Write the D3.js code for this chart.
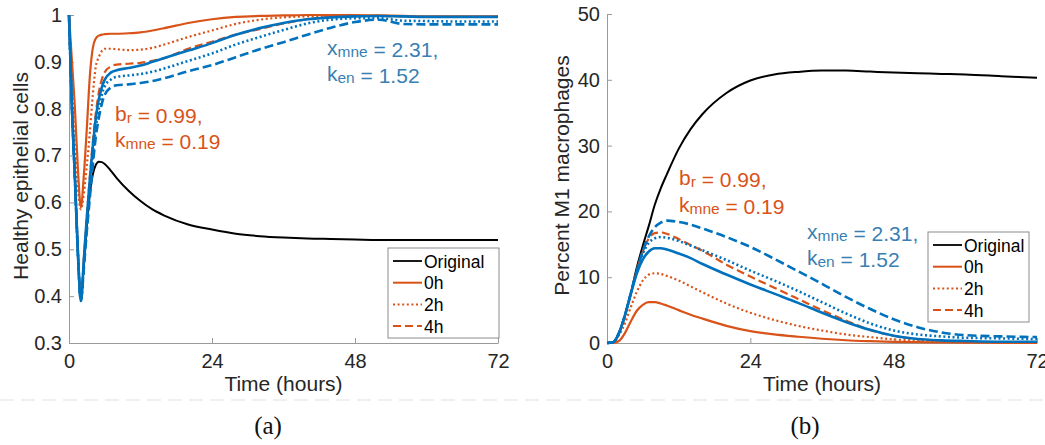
<!DOCTYPE html>
<html>
<head>
<meta charset="utf-8">
<script src="https://cdn.jsdelivr.net/npm/d3@7"></script>
<style>
  body { margin: 0; background: #fff; }
  svg text { font-family: "Liberation Sans", Arial, sans-serif; }
</style>
</head>
<body>
<svg id="chart" width="1045" height="445"></svg>
<script>
// ---- data ----
const hoursA = [0, 0.5, 1, 1.5, 2, 2.5, 3, 3.5, 4, 4.5, 5, 5.5, 6, 7, 8, 10, 12, 14, 16, 20, 24, 28, 32, 36, 40, 44, 48, 52, 56, 60, 66, 72];
const epiOriginal = [1, 0.8, 0.65, 0.49, 0.39, 0.47, 0.55, 0.62, 0.66, 0.68, 0.687, 0.686, 0.682, 0.668, 0.652, 0.625, 0.603, 0.585, 0.572, 0.553, 0.542, 0.533, 0.528, 0.525, 0.523, 0.522, 0.521, 0.52, 0.52, 0.52, 0.52, 0.52];
const epiBr0h = [1, 0.9, 0.8, 0.67, 0.59, 0.66, 0.76, 0.87, 0.93, 0.95, 0.956, 0.958, 0.959, 0.96, 0.96, 0.961, 0.963, 0.967, 0.972, 0.983, 0.991, 0.996, 0.998, 0.999, 1, 1, 1, 0.999, 0.998, 0.997, 0.997, 0.997];
const epiBr2h = [1, 0.85, 0.72, 0.63, 0.585, 0.62, 0.68, 0.75, 0.83, 0.89, 0.91, 0.923, 0.928, 0.928, 0.927, 0.925, 0.926, 0.93, 0.937, 0.953, 0.967, 0.981, 0.99, 0.995, 0.997, 0.998, 0.998, 0.998, 0.997, 0.996, 0.996, 0.996];
const epiBr4h = [1, 0.8, 0.65, 0.49, 0.39, 0.48, 0.57, 0.655, 0.73, 0.79, 0.835, 0.862, 0.878, 0.89, 0.894, 0.896, 0.898, 0.902, 0.908, 0.928, 0.943, 0.958, 0.97, 0.982, 0.991, 0.996, 0.998, 0.998, 0.997, 0.996, 0.996, 0.996];
const epiX0h = [1, 0.8, 0.65, 0.49, 0.39, 0.48, 0.57, 0.65, 0.72, 0.78, 0.82, 0.845, 0.862, 0.877, 0.882, 0.887, 0.892, 0.9, 0.908, 0.924, 0.94, 0.958, 0.972, 0.983, 0.991, 0.995, 0.997, 0.998, 0.997, 0.996, 0.996, 0.996];
const epiX2h = [1, 0.8, 0.65, 0.49, 0.39, 0.47, 0.55, 0.63, 0.7, 0.76, 0.8, 0.83, 0.848, 0.862, 0.868, 0.871, 0.874, 0.879, 0.886, 0.902, 0.918, 0.937, 0.953, 0.968, 0.982, 0.99, 0.993, 0.993, 0.988, 0.987, 0.986, 0.986];
const epiX4h = [1, 0.8, 0.65, 0.49, 0.39, 0.46, 0.54, 0.61, 0.68, 0.74, 0.78, 0.81, 0.83, 0.845, 0.85, 0.852, 0.855, 0.859, 0.865, 0.88, 0.893, 0.91, 0.927, 0.942, 0.958, 0.973, 0.985, 0.99, 0.981, 0.98, 0.98, 0.98];

const hoursB = [0, 1, 2, 3, 4, 5, 6, 7, 8, 9, 10, 12, 14, 16, 20, 24, 28, 32, 36, 40, 44, 48, 52, 56, 60, 66, 72];
const m1Original = [0, 0.1, 1.5, 4.2, 7.6, 11.5, 14.8, 17.8, 21, 23.5, 25.6, 29.5, 32.5, 34.8, 38, 39.9, 40.8, 41.2, 41.4, 41.4, 41.25, 41.1, 41.0, 40.9, 40.8, 40.55, 40.3];
const m1Br0h = [0, 0, 0.3, 1.5, 3.3, 4.9, 5.8, 6.2, 6.2, 6.0, 5.7, 5.0, 4.3, 3.7, 2.6, 1.8, 1.3, 0.95, 0.65, 0.42, 0.28, 0.18, 0.12, 0.08, 0.05, 0.03, 0.02];
const m1Br2h = [0, 0.1, 1.2, 3.0, 5.5, 7.8, 9.5, 10.4, 10.6, 10.5, 10.2, 9.5, 8.6, 7.7, 6.0, 4.6, 3.5, 2.6, 1.9, 1.3, 0.9, 0.55, 0.35, 0.22, 0.14, 0.08, 0.05];
const m1Br4h = [0, 0.1, 1.5, 4.2, 7.6, 11, 13.9, 15.9, 16.7, 16.8, 16.6, 15.8, 14.9, 14.0, 11.9, 10.1, 8.4, 6.7, 5.0, 3.4, 2.0, 1.1, 0.6, 0.35, 0.2, 0.12, 0.1];
const m1X0h = [0, 0.1, 1.5, 4.2, 7.5, 10.6, 12.7, 13.9, 14.4, 14.4, 14.2, 13.6, 12.9, 12.0, 10.4, 8.9, 7.5, 6.1, 4.6, 3.2, 2.0, 1.1, 0.6, 0.4, 0.3, 0.2, 0.2];
const m1X2h = [0, 0.1, 1.5, 4.2, 7.6, 11, 13.6, 15.2, 15.9, 16.1, 16.0, 15.5, 14.8, 14.1, 12.6, 11.0, 9.5, 7.9, 6.2, 4.5, 3.0, 1.9, 1.3, 1.0, 0.8, 0.7, 0.6];
const m1X4h = [0, 0.1, 1.5, 4.2, 7.6, 11, 14, 16.2, 17.6, 18.3, 18.6, 18.4, 18.0, 17.4, 16.1, 14.6, 12.8, 10.9, 9.0, 7.0, 5.2, 3.6, 2.4, 1.6, 1.2, 1.0, 0.9];

const xTicks = [0, 24, 48, 72];
const yTicksA = [0.3, 0.4, 0.5, 0.6, 0.7, 0.8, 0.9, 1];
const yTicksB = [0, 10, 20, 30, 40, 50];
const legendLabels = ["Original", "0h", "2h", "4h"];

// ---- styles ----
const BLACK = "#000000", ORANGE = "#D95319", BLUE = "#0072BD";
const styles = {
  original: { color: BLACK, width: 2, dash: null },
  br0h: { color: ORANGE, width: 2.2, dash: null },
  br2h: { color: ORANGE, width: 2.2, dash: "2,2.6" },
  br4h: { color: ORANGE, width: 2.2, dash: "8,4" },
  x0h: { color: BLUE, width: 2.6, dash: null },
  x2h: { color: BLUE, width: 2.6, dash: "2,2.6" },
  x4h: { color: BLUE, width: 2.6, dash: "9,4" }
};

const svg = d3.select("#chart");

// faint separator above the captions
svg.append("line")
  .attr("x1", 0).attr("x2", 1045).attr("y1", 400).attr("y2", 400)
  .attr("stroke", "#ececec").attr("stroke-width", 1.5).attr("stroke-dasharray", "14,7");

function drawPanel(p) {
  let x = d3.scaleLinear().domain([0, 72]).range([p.left, p.right]);
  let y = d3.scaleLinear().domain(p.yDomain).range([p.bottom, p.top]);
  let g = svg.append("g");

  // axes
  let xAxis = g.append("g").attr("transform", `translate(0,${p.bottom})`)
    .call(d3.axisBottom(x).tickValues(xTicks).tickSizeInner(-5).tickSizeOuter(0).tickPadding(11).tickFormat(d3.format("d")));
  let yAxis = g.append("g").attr("transform", `translate(${p.left},0)`)
    .call(d3.axisLeft(y).tickValues(p.yTicks).tickSizeInner(-5).tickSizeOuter(0).tickPadding(7).tickFormat(p.fmt));
  [xAxis, yAxis].forEach(a => {
    a.select(".domain").attr("stroke", "#9a9a9a");
    a.selectAll(".tick line").attr("stroke", "#9a9a9a");
    a.selectAll(".tick text").attr("fill", "#262626").style("font-size", "20px")
      .style("font-family", "'Liberation Sans', Arial, sans-serif");
  });

  // axis titles
  g.append("text")
    .attr("x", (p.left + p.right) / 2).attr("y", 391)
    .attr("text-anchor", "middle").attr("fill", "#262626").style("font-size", "21px")
    .text("Time (hours)");
  g.append("text")
    .attr("transform", `translate(${p.yLabelX},${(p.top + p.bottom) / 2 - 3}) rotate(-90)`)
    .attr("text-anchor", "middle").attr("fill", "#262626").style("font-size", "21px")
    .text(p.yLabel);

  // curves
  let line = d3.line().x((d, i) => x(p.hours[i])).y(d => y(d)).curve(d3.curveMonotoneX);
  p.series.forEach(s => {
    let st = styles[s.key];
    g.append("path")
      .datum(s.values)
      .attr("d", line)
      .attr("fill", "none")
      .attr("stroke", st.color)
      .attr("stroke-width", st.width)
      .attr("stroke-dasharray", st.dash)
      .attr("stroke-linejoin", "round");
  });

  // annotations
  p.notes.forEach(n => {
    let t = g.append("text").attr("x", n.x).attr("y", n.y).attr("fill", n.color).style("font-size", "21px");
    n.parts.forEach(part => {
      if (part.sub) {
        t.append("tspan").text(part.sub).style("font-size", "15.5px").attr("dy", 2);
        t.append("tspan").attr("dy", -2).text("");
      } else {
        t.append("tspan").text(part.txt);
      }
    });
  });

  // legend
  let lg = g.append("g").attr("transform", `translate(${p.legend.x},${p.legend.y})`);
  lg.append("rect").attr("width", p.legend.w).attr("height", 90)
    .attr("fill", "#fff").attr("stroke", "#8c8c8c").attr("stroke-width", 1);
  let legendKeys = ["original", "br0h", "br2h", "br4h"];
  legendLabels.forEach((lab, i) => {
    let st = styles[legendKeys[i]];
    let cy = 13 + i * 21.7;
    lg.append("line").attr("x1", 5).attr("x2", 34).attr("y1", cy).attr("y2", cy)
      .attr("stroke", st.color).attr("stroke-width", st.width - 0.2).attr("stroke-dasharray", st.dash);
    lg.append("text").attr("x", 36).attr("y", cy + 6.5).attr("fill", "#000")
      .style("font-size", "17.5px").text(lab);
  });

  // caption
  svg.append("text").attr("x", p.captionX).attr("y", 434).attr("text-anchor", "middle")
    .style("font-family", "'Liberation Serif', 'DejaVu Serif', serif").style("font-size", "25px")
    .attr("fill", "#111").text(p.caption);
}

const seriesA = [
  { key: "original", values: epiOriginal },
  { key: "br0h", values: epiBr0h },
  { key: "br2h", values: epiBr2h },
  { key: "br4h", values: epiBr4h },
  { key: "x0h", values: epiX0h },
  { key: "x2h", values: epiX2h },
  { key: "x4h", values: epiX4h }
];
const seriesB = [
  { key: "original", values: m1Original },
  { key: "br0h", values: m1Br0h },
  { key: "br2h", values: m1Br2h },
  { key: "br4h", values: m1Br4h },
  { key: "x0h", values: m1X0h },
  { key: "x2h", values: m1X2h },
  { key: "x4h", values: m1X4h }
];

const brNote = [{ txt: "b" }, { sub: "r" }, { txt: " = 0.99," }];
const kmneNote = [{ txt: "k" }, { sub: "mne" }, { txt: " = 0.19" }];
const xmneNote = [{ txt: "x" }, { sub: "mne" }, { txt: " = 2.31," }];
const kenNote = [{ txt: "k" }, { sub: "en" }, { txt: " = 1.52" }];
const NOTE_BLUE = "#3a7fb3";

drawPanel({
  left: 69, right: 498, top: 15, bottom: 343,
  yDomain: [0.3, 1], yTicks: yTicksA, fmt: d => String(+d.toFixed(1)),
  yLabel: "Healthy epithelial cells", yLabelX: 28,
  hours: hoursA, series: seriesA,
  notes: [
    { x: 115, y: 121, color: ORANGE, parts: brNote },
    { x: 115, y: 147, color: ORANGE, parts: kmneNote },
    { x: 327, y: 55, color: NOTE_BLUE, parts: xmneNote },
    { x: 327, y: 81, color: NOTE_BLUE, parts: kenNote }
  ],
  legend: { x: 388, y: 248, w: 111 },
  caption: "(a)", captionX: 268
});

drawPanel({
  left: 607, right: 1037, top: 14, bottom: 343,
  yDomain: [0, 50], yTicks: yTicksB, fmt: d3.format("d"),
  yLabel: "Percent M1 macrophages", yLabelX: 569,
  hours: hoursB, series: seriesB,
  notes: [
    { x: 679, y: 185, color: ORANGE, parts: brNote },
    { x: 679, y: 212, color: ORANGE, parts: kmneNote },
    { x: 807, y: 239, color: NOTE_BLUE, parts: xmneNote },
    { x: 807, y: 265, color: NOTE_BLUE, parts: kenNote }
  ],
  legend: { x: 928, y: 232, w: 101 },
  caption: "(b)", captionX: 805
});
</script>
</body>
</html>
